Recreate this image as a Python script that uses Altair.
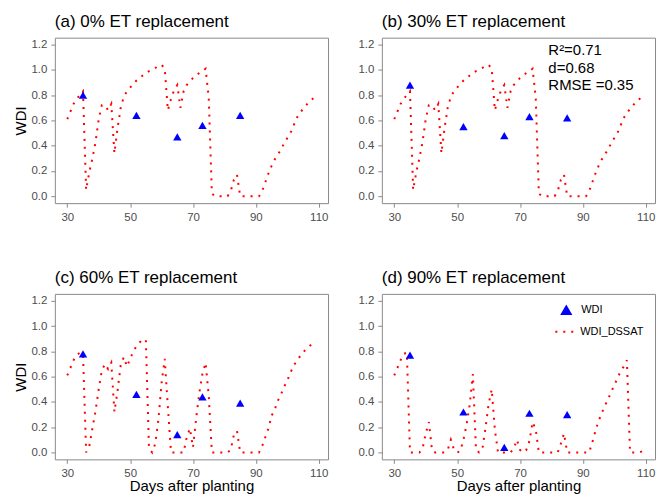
import altair as alt
import pandas as pd

FONT = "Liberation Sans"

# ---- data ----
days_sim = list(range(30, 110))
days_obs = [35, 52, 65, 73, 85]

sim_0 = [0.61, 0.67, 0.73, 0.77, 0.80, 0.83, 0.05, 0.19, 0.30, 0.43,
         0.61, 0.72, 0.72, 0.68, 0.73, 0.34, 0.54, 0.70, 0.79, 0.83,
         0.86, 0.89, 0.915, 0.935, 0.955, 0.97, 0.99, 1.00, 1.015, 1.03,
         1.04, 1.01, 0.68, 0.77, 0.84, 0.88, 0.70, 0.83, 0.88, 0.91,
         0.935, 0.955, 0.975, 0.99, 1.01, 0.78, 0.02, 0.0, 0.0, 0.0,
         0.0, 0.0, 0.04, 0.13, 0.17, 0.0, 0.0, 0.0, 0.0, 0.0,
         0.0, 0.0, 0.04, 0.11, 0.18, 0.24, 0.29, 0.33, 0.37, 0.42,
         0.46, 0.50, 0.56, 0.62, 0.66, 0.69, 0.72, 0.75, 0.77, 0.79]
sim_30 = list(sim_0)
sim_60 = [0.61, 0.67, 0.73, 0.77, 0.79, 0.78, 0.0, 0.05, 0.19, 0.33,
          0.50, 0.65, 0.70, 0.66, 0.71, 0.32, 0.49, 0.69, 0.755, 0.68,
          0.74, 0.80, 0.84, 0.87, 0.895, 0.89, 0.03, 0.0, 0.07, 0.26,
          0.55, 0.74, 0.36, 0.0, 0.0, 0.0, 0.0, 0.0, 0.12, 0.19,
          0.04, 0.27, 0.47, 0.62, 0.71, 0.45, 0.0, 0.0, 0.0, 0.0,
          0.0, 0.0, 0.02, 0.14, 0.17, 0.0, 0.0, 0.0, 0.0, 0.0,
          0.0, 0.0, 0.05, 0.12, 0.19, 0.29, 0.34, 0.41, 0.46, 0.52,
          0.57, 0.63, 0.69, 0.72, 0.76, 0.79, 0.82, 0.84, 0.86, 0.87]
sim_90 = [0.61, 0.67, 0.73, 0.78, 0.79, 0.0, 0.0, 0.0, 0.0, 0.03,
          0.15, 0.24, 0.02, 0.0, 0.0, 0.0, 0.0, 0.02, 0.10, 0.02,
          0.0, 0.01, 0.10, 0.22, 0.38, 0.62, 0.02, 0.0, 0.02, 0.19,
          0.38, 0.50, 0.18, 0.0, 0.0, 0.0, 0.0, 0.0, 0.03, 0.10,
          0.02, 0.0, 0.02, 0.09, 0.24, 0.18, 0.0, 0.0, 0.0, 0.0,
          0.0, 0.0, 0.0, 0.07, 0.15, 0.0, 0.0, 0.0, 0.0, 0.0,
          0.0, 0.0, 0.0, 0.08, 0.17, 0.25, 0.31, 0.37, 0.42, 0.48,
          0.53, 0.59, 0.64, 0.68, 0.73, 0.0, 0.0, 0.0, 0.0, 0.01]

wdi_0 = [0.80, 0.64, 0.47, 0.56, 0.64]
wdi_30 = [0.88, 0.55, 0.48, 0.63, 0.62]
wdi_60 = [0.78, 0.46, 0.14, 0.44, 0.39]
wdi_90 = [0.77, 0.32, 0.04, 0.31, 0.30]

titles = ["(a) 0% ET replacement", "(b) 30% ET replacement",
          "(c) 60% ET replacement", "(d) 90% ET replacement"]
stats_lines = ["R\u00b2=0.71", "d=0.68", "RMSE =0.35"]
x_ticks = [30, 50, 70, 90, 110]
y_ticks = [0.0, 0.2, 0.4, 0.6, 0.8, 1.0, 1.2]

W, H = 274, 166


def panel(sim, obs, title, ytitle, xtitle, legend=False, stats=False):
    df_sim = pd.DataFrame({"day": days_sim, "wdi": sim, "sim": "WDI_DSSAT"})
    df_obs = pd.DataFrame({"day": days_obs, "wdi": obs, "obs": "WDI"})
    x = alt.X("day:Q",
              scale=alt.Scale(domain=[26.05, 112.95], nice=False, zero=False),
              axis=alt.Axis(values=x_ticks, title="Days after planting" if xtitle else None))
    y = alt.Y("wdi:Q",
              scale=alt.Scale(domain=[-0.055, 1.255], nice=False, zero=False),
              axis=alt.Axis(values=y_ticks, format=".1f", title="WDI" if ytitle else None))
    line_enc = dict(x=x, y=y)
    pt_enc = dict(x=x, y=y)
    if legend:
        line_enc["strokeDash"] = alt.StrokeDash(
            "sim:N", scale=alt.Scale(domain=["WDI_DSSAT"], range=[[2, 6]]),
            legend=alt.Legend(title=None, orient="none", legendX=173, legendY=28,
                              symbolType="stroke", symbolStrokeColor="red",
                              symbolStrokeWidth=2, symbolSize=324, symbolDash=[2, 6],
                              labelOffset=6, labelFontSize=11, labelColor="black",
                              labelFont=FONT))
        pt_enc["shape"] = alt.Shape(
            "obs:N", scale=alt.Scale(domain=["WDI"], range=["triangle-up"]),
            legend=alt.Legend(title=None, orient="none", legendX=178, legendY=9,
                              symbolFillColor="blue", symbolStrokeColor="blue",
                              symbolSize=150, symbolOpacity=1, labelOffset=8,
                              labelFontSize=11, labelColor="black", labelFont=FONT))
    line = alt.Chart(df_sim).mark_line(color="red", strokeWidth=2, strokeDash=[2, 6],
                                       strokeCap="butt").encode(**line_enc)
    pts = alt.Chart(df_obs).mark_point(shape="triangle-up", filled=True, color="blue",
                                       size=70, opacity=1).encode(**pt_enc)
    layers = [line, pts]
    if stats:
        txt = alt.Chart(pd.DataFrame({"k": [0]})).mark_text(
            align="left", baseline="middle", fontSize=15, font=FONT, color="black",
            lineHeight=18).encode(x=alt.value(167), y=alt.value(12),
                                  text=alt.value(stats_lines))
        layers.append(txt)
    return alt.layer(*layers).properties(
        width=W, height=H,
        title=alt.TitleParams(title, anchor="start", frame="group", fontSize=17,
                              fontWeight="normal", font=FONT, color="black", offset=7))


a = panel(sim_0, wdi_0, titles[0], True, False)
b = panel(sim_30, wdi_30, titles[1], False, False, stats=True)
c = panel(sim_60, wdi_60, titles[2], True, True)
d = panel(sim_90, wdi_90, titles[3], False, True, legend=True)

row1 = alt.hconcat(a, b, spacing=28).resolve_legend(shape="independent", strokeDash="independent")
row2 = alt.hconcat(c, d, spacing=28).resolve_legend(shape="independent", strokeDash="independent")

chart = alt.vconcat(row1, row2, spacing=45).resolve_legend(
    shape="independent", strokeDash="independent"
).configure_view(stroke="#8a8a8a", strokeWidth=1).configure_axis(
    domain=False, grid=False, ticks=True, tickColor="#8a8a8a", tickSize=4,
    labelFontSize=11.5, labelColor="#4d4d4d", labelFont=FONT, labelPadding=4,
    titleFontSize=15, titleFontWeight="normal", titleFont=FONT, titleColor="black",
    titlePadding=2,
).configure_axisX(titlePadding=0).properties(
    background="white", padding={"left": 5, "top": 3, "right": 5, "bottom": 5})

chart.save("out.html", embed_options={"renderer": "svg", "actions": False})
